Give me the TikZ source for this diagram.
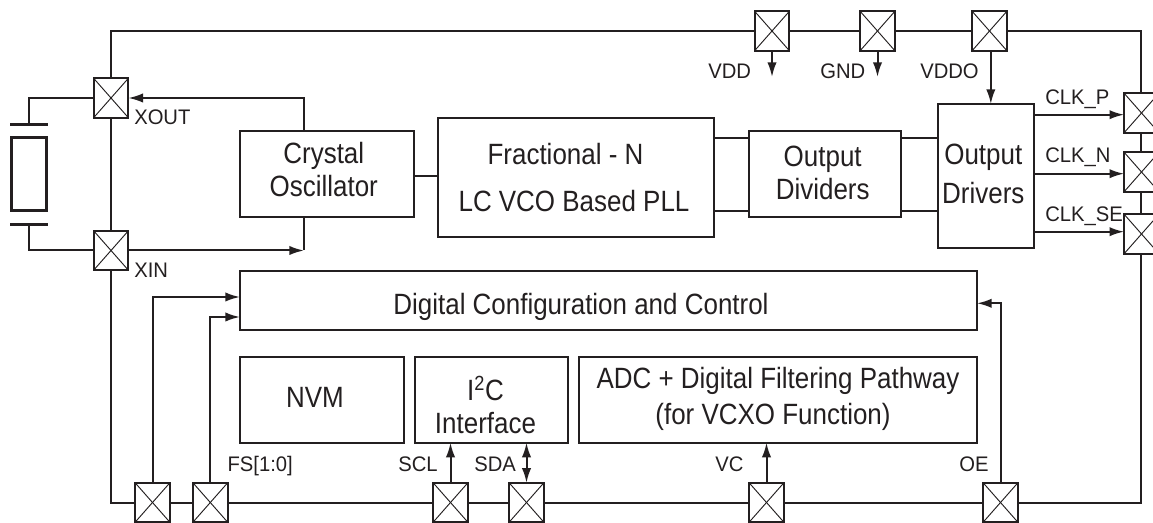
\documentclass[tikz,border=0pt]{standalone}
\usepackage{fontspec}
\setmainfont{Liberation Sans}
\newfontfamily\titlefont[FakeStretch=0.885]{Liberation Sans}
\newfontfamily\pinfont[FakeStretch=0.96]{Liberation Sans}
\usetikzlibrary{arrows.meta}
\definecolor{ink}{HTML}{231F20}
\tikzset{
  wire/.style={draw=ink,line width=1.5pt},
  conn/.style={wire,-{Latex[length=11pt,width=7pt]}},
  both/.style={wire,{Latex[length=11pt,width=7pt]}-{Latex[length=11pt,width=7pt]}},
  box/.style={draw=ink,line width=1.5pt,inner sep=0pt,outer sep=0pt},
  pad/.style={draw=ink,fill=white,line width=1.5pt,inner sep=0pt,outer sep=0pt,minimum width=26pt,minimum height=29.5pt,
    path picture={
      \draw[ink,line width=0.7pt] (path picture bounding box.north west) -- (path picture bounding box.south east);
      \draw[ink,line width=0.7pt] (path picture bounding box.north east) -- (path picture bounding box.south west);
    }},
  title/.style={text=ink,inner sep=0pt,anchor=base,align=center,font=\titlefont\fontsize{22}{24.75}\selectfont},
  pin/.style={text=ink,inner sep=0pt,anchor=base west,font=\pinfont\fontsize{15.8}{18}\selectfont}
}
\begin{document}
\begin{tikzpicture}[x=0.75pt,y=-0.75pt]
  \clip[use as bounding box] (0,0) rectangle (1153,523);
  \coordinate (nw) at (110.7,31);
  \coordinate (ne) at (1141,31);
  \coordinate (sw) at (110.7,503);
  \coordinate (se) at (1141,503);
  \draw[wire] (nw) -- (ne) -- (se) -- (sw) -- cycle;
  \draw
    (111,98) node[pad] (xout){}
    (111,250.5) node[pad] (xin){}
    (772,31) node[pad] (vdd){}
    (877.5,31) node[pad] (gnd){}
    (989.5,31) node[pad] (vddo){}
    (1141.5,113) node[pad] (clkp){}
    (1141.5,172) node[pad] (clkn){}
    (1141.5,234) node[pad] (clkse){}
    (152.5,502.5) node[pad] (fsa){}
    (210.3,502.5) node[pad] (fsb){}
    (450.5,502.5) node[pad] (scl){}
    (526.5,502.5) node[pad] (sda){}
    (766.5,502.5) node[pad] (vc){}
    (1000.5,502.5) node[pad] (oe){};
  \draw
    (327,174) node[box,minimum width=130pt,minimum height=64.5pt] (osc){}
    (576,177.5) node[box,minimum width=207pt,minimum height=89.5pt] (pll){}
    (825,174) node[box,minimum width=114pt,minimum height=64.5pt] (dividers){}
    (986,176) node[box,minimum width=72pt,minimum height=108pt] (drivers){}
    (608.3,300.5) node[box,minimum width=552.5pt,minimum height=44.5pt] (digital){}
    (322,400) node[box,minimum width=123pt,minimum height=64pt] (nvm){}
    (491.7,400) node[box,minimum width=115pt,minimum height=64pt] (iic){}
    (778,400) node[box,minimum width=298.5pt,minimum height=64pt] (adc){};
  \draw
    (323.8,197) node[title] (osctext){Crystal\\Oscillator}
    (574,211.7) node[title] (plltext){\hspace*{-12.75pt}Fractional - N\\[10.3pt]LC VCO Based PLL}
    (822.7,199.3) node[title] (dividerstext){Output\\Dividers}
    (983.3,203.3) node[title] (driverstext){Output\\[4.5pt]Drivers}
    (581,315) node[title] (digitaltext){Digital Configuration and Control}
    (315,407.3) node[title] (nvmtext){NVM}
    (485.5,433.3) node[title] (iictext){I\textsuperscript{2}C\\Interface}
    (778,425) node[title] (adctext){ADC + Digital Filtering Pathway\\[2.8pt]\hspace*{-7.5pt}(for VCXO Function)};
  \draw
    (134,125) node[pin] (xoutlabel){XOUT}
    (134,278) node[pin] (xinlabel){XIN}
    (708,79) node[pin] (vddlabel){VDD}
    (820,79) node[pin] (gndlabel){GND}
    (920,79) node[pin] (vddolabel){VDDO}
    (1045,105) node[pin] (clkplabel){CLK\_P}
    (1045,163) node[pin] (clknlabel){CLK\_N}
    (1045,221.7) node[pin] (clkselabel){CLK\_SE}
    (227.3,471.5) node[pin] (fslabel){FS[1:0]}
    (398,471.5) node[pin] (scllabel){SCL}
    (474,471.5) node[pin] (sdalabel){SDA}
    (715,471.5) node[pin] (vclabel){VC}
    (959,471.5) node[pin] (oelabel){OE};
  \coordinate (plateup) at (29,124.3);
  \coordinate (platedown) at (29,224.3);
  \coordinate (oscout) at (304,98);
  \coordinate (oscin) at (304,250.5);
  \coordinate (vddend) at (772,77);
  \coordinate (gndend) at (877.5,77);
  \coordinate (divup) at (0,137.7);
  \coordinate (divdown) at (0,210.7);
  \coordinate (fsaend) at (240,297);
  \coordinate (fsbend) at (240,317);
  \coordinate (oeend) at (977,303.3);
  \draw (29,174) node[box,line width=2.2pt,minimum width=26.5pt,minimum height=54.5pt] (crystal){};
  \draw[wire,line width=2pt] (10,124.3) -- (48,124.3);
  \draw[wire,line width=2pt] (10,224.3) -- (48,224.3);
  \draw[wire] (plateup) |- (xout);
  \draw[wire] (platedown) |- (xin);
  \begin{scope}[conn]
    \draw (osc.north -| oscout) |- (xout);
    \draw (xin) -- (oscin);
    \draw (vdd) -- (vddend);
    \draw (gnd) -- (gndend);
    \draw ([xshift=1pt]vddo.south) -- ([xshift=1pt]vddo.south |- drivers.north);
    \draw (drivers.east |- 0,114.7) -- (clkp.west |- 0,114.7);
    \draw (drivers.east |- 0,173.7) -- (clkn.west |- 0,173.7);
    \draw (drivers.east |- 0,231.7) -- (clkse.west |- 0,231.7);
    \draw (fsa) |- (fsaend);
    \draw (fsb) |- (fsbend);
    \draw (oe) |- (oeend);
    \draw (scl) -- (scl |- iic.south);
    \draw (vc) -- (vc |- adc.south);
  \end{scope}
  \begin{scope}[wire]
    \draw (osc.south -| oscin) -- (oscin);
    \draw (osc.east |- 0,176) -- (pll.west |- 0,176);
    \draw (pll.east |- divup) -- (dividers.west |- divup);
    \draw (pll.east |- divdown) -- (dividers.west |- divdown);
    \draw (dividers.east |- divup) -- (drivers.west |- divup);
    \draw (dividers.east |- divdown) -- (drivers.west |- divdown);
  \end{scope}
  \draw[both] (sda) -- (sda |- iic.south);
\end{tikzpicture}
\end{document}
